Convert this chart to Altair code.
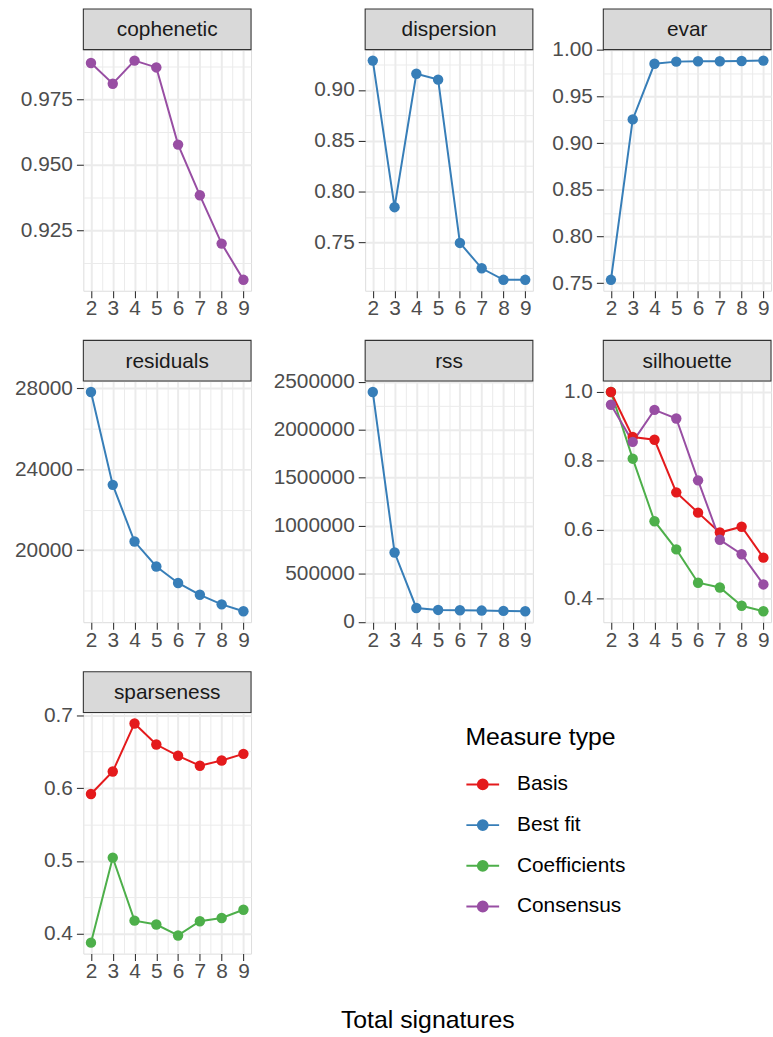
import json
import altair as alt
import pandas as pd

# ---------------- data ----------------
k = [2, 3, 4, 5, 6, 7, 8, 9]

cophenetic_consensus = [0.9888, 0.9809, 0.9897, 0.9871, 0.9577, 0.9384, 0.9200, 0.9062]
dispersion_bestfit = [0.9287, 0.7848, 0.9158, 0.9100, 0.7497, 0.7248, 0.7135, 0.7135]
evar_bestfit = [0.7535, 0.9254, 0.9850, 0.9873, 0.9877, 0.9877, 0.9880, 0.9884]
residuals_bestfit = [27805, 23221, 20422, 19189, 18377, 17793, 17322, 16981]
rss_bestfit = [2394000, 721600, 143600, 123000, 119700, 116300, 112900, 109400]
silhouette_coefficients = [1.000, 0.806, 0.624, 0.542, 0.445, 0.431, 0.378, 0.362]
silhouette_basis = [1.000, 0.869, 0.861, 0.708, 0.649, 0.591, 0.608, 0.518]
silhouette_consensus = [0.963, 0.855, 0.948, 0.923, 0.743, 0.570, 0.528, 0.440]
sparseness_basis = [0.5919, 0.6227, 0.6887, 0.6598, 0.6443, 0.6307, 0.6379, 0.6470]
sparseness_coefficients = [0.3878, 0.5045, 0.4180, 0.4127, 0.3977, 0.4172, 0.4217, 0.4330]

measure_types = ["Basis", "Best fit", "Coefficients", "Consensus"]
type_colors = ["#E41A1C", "#377EB8", "#4DAF4A", "#984EA3"]

series = [
    ("cophenetic", "Consensus", cophenetic_consensus),
    ("dispersion", "Best fit", dispersion_bestfit),
    ("evar", "Best fit", evar_bestfit),
    ("residuals", "Best fit", residuals_bestfit),
    ("rss", "Best fit", rss_bestfit),
    ("silhouette", "Coefficients", silhouette_coefficients),
    ("silhouette", "Basis", silhouette_basis),
    ("silhouette", "Consensus", silhouette_consensus),
    ("sparseness", "Basis", sparseness_basis),
    ("sparseness", "Coefficients", sparseness_coefficients),
]

panel_names = ["cophenetic", "dispersion", "evar", "residuals", "rss", "silhouette", "sparseness"]

y_major = {
    "cophenetic": [0.925, 0.95, 0.975],
    "dispersion": [0.75, 0.8, 0.85, 0.9],
    "evar": [0.75, 0.8, 0.85, 0.9, 0.95, 1.0],
    "residuals": [20000, 24000, 28000],
    "rss": [0, 500000, 1000000, 1500000, 2000000, 2500000],
    "silhouette": [0.4, 0.6, 0.8, 1.0],
    "sparseness": [0.4, 0.5, 0.6, 0.7],
}
y_format = {
    "cophenetic": ".3f", "dispersion": ".2f", "evar": ".2f",
    "residuals": "d", "rss": "d", "silhouette": ".1f", "sparseness": ".1f",
}
x_major = k

rows = []
for measure, typ, vals in series:
    for kk, v in zip(k, vals):
        rows.append({"measure": measure, "type": typ, "k": kk, "value": v})
df = pd.DataFrame(rows)

# ---------------- styling ----------------
FONT = "Liberation Sans"
TICK_FS = 21
W, H, SH = 169, 243, 41
col_extent = [69, 102, 58]
X_EXT = 30
GRID = "#EBEBEB"
DARK = "#333333"

color_scale = alt.Scale(domain=measure_types, range=type_colors)


def minors_of(majors):
    step = majors[1] - majors[0]
    out = [round((a + b) / 2, 8) for a, b in zip(majors[:-1], majors[1:])]
    out = [round(majors[0] - step / 2, 8)] + out + [round(majors[-1] + step / 2, 8)]
    return out


x_minor = [round(a + 0.5, 8) for a in x_major[:-1]]
x_test = "datum.value % 1 !== 0"
x_axis = alt.Axis(
    values=sorted(x_major + x_minor),
    labelExpr=f"{x_test} ? '' : format(datum.value, 'd')",
    title=None, domain=False, grid=True, gridColor=GRID,
    gridWidth={"condition": {"test": x_test, "value": 1}, "value": 2},
    tickOpacity={"condition": {"test": x_test, "value": 0}, "value": 1},
    tickColor=DARK, tickSize=7, tickWidth=1.1,
    labelFont=FONT, labelFontSize=TICK_FS, labelColor="#4D4D4D", labelPadding=0,
    labelOverlap=False, labelFlush=False,
    minExtent=X_EXT, maxExtent=X_EXT,
)

legend = alt.Legend(
    title="Measure type", orient="none", legendX=385, legendY=681,
    titleFont=FONT, titleFontSize=25, titleFontWeight="normal", titleColor="#000000",
    titlePadding=17, labelFont=FONT, labelFontSize=TICK_FS, labelColor="#000000",
    labelOffset=17, rowPadding=13, padding=0,
    symbolType="M-1,0L1,0M-0.3,0A0.3,0.3,0,1,0,0.3,0A0.3,0.3,0,1,0,-0.3,0Z",
    symbolSize=1089, symbolStrokeWidth=2,
)


def panel(name, extent):
    d = df[df.measure == name]
    lo, hi = d.value.min(), d.value.max()
    pad = 0.05 * (hi - lo)
    dom = [lo - pad, hi + pad]
    majors = y_major[name]
    minors = [m for m in minors_of(majors) if dom[0] <= m <= dom[1]]
    test = f"indexof({json.dumps(majors)}, datum.value) < 0"
    y_axis = alt.Axis(
        values=sorted(majors + minors),
        labelExpr=f"{test} ? '' : format(datum.value, '{y_format[name]}')",
        title=None, domain=False, grid=True, gridColor=GRID,
        gridWidth={"condition": {"test": test, "value": 1}, "value": 2},
        tickOpacity={"condition": {"test": test, "value": 0}, "value": 1},
        tickColor=DARK, tickSize=7, tickWidth=1.1,
        labelFont=FONT, labelFontSize=TICK_FS, labelColor="#4D4D4D", labelPadding=4,
        labelOverlap=False, labelFlush=False,
        minExtent=extent, maxExtent=extent,
    )
    xenc = alt.X("k:Q", scale=alt.Scale(domain=[1.65, 9.35], nice=False, zero=False), axis=x_axis)
    yenc = alt.Y("value:Q", scale=alt.Scale(domain=dom, nice=False, zero=False), axis=y_axis)
    cenc = alt.Color("type:N", scale=color_scale, legend=legend)

    strip_df = pd.DataFrame({"label": [name]})
    strip_bg = alt.Chart(strip_df).mark_rect(
        fill="#D9D9D9", stroke=DARK, strokeWidth=1.1
    ).encode(x=alt.value(0), x2=alt.value(W), y=alt.value(-SH), y2=alt.value(0))
    strip_txt = alt.Chart(strip_df).mark_text(
        font=FONT, fontSize=21, color="#1A1A1A", align="center", baseline="middle"
    ).encode(x=alt.value(W / 2), y=alt.value(-SH / 2 + 1), text="label:N")

    lines = alt.Chart(d).mark_line(strokeWidth=2).encode(x=xenc, y=yenc, color=cenc)
    points = alt.Chart(d).mark_circle(size=110, opacity=1).encode(x=xenc, y=yenc, color=cenc)
    return alt.layer(strip_bg, strip_txt, lines, points).properties(width=W, height=H)


panels = [panel(n, col_extent[i % 3]) for i, n in enumerate(panel_names)]

chart = alt.concat(
    *panels, columns=3, spacing={"row": 17, "column": 10}, align="each"
).properties(
    title=alt.TitleParams(
        "Total signatures", orient="bottom", anchor="middle", font=FONT,
        fontSize=25, fontWeight="normal", color="#000000", offset=24, dx=35,
    ),
    padding={"left": 14, "top": 3, "right": 0, "bottom": 0},
).configure_view(
    stroke=DARK, strokeWidth=1.1, fill="white"
).configure(background="white")

chart.save("out.html", embed_options={"renderer": "svg", "actions": False})
